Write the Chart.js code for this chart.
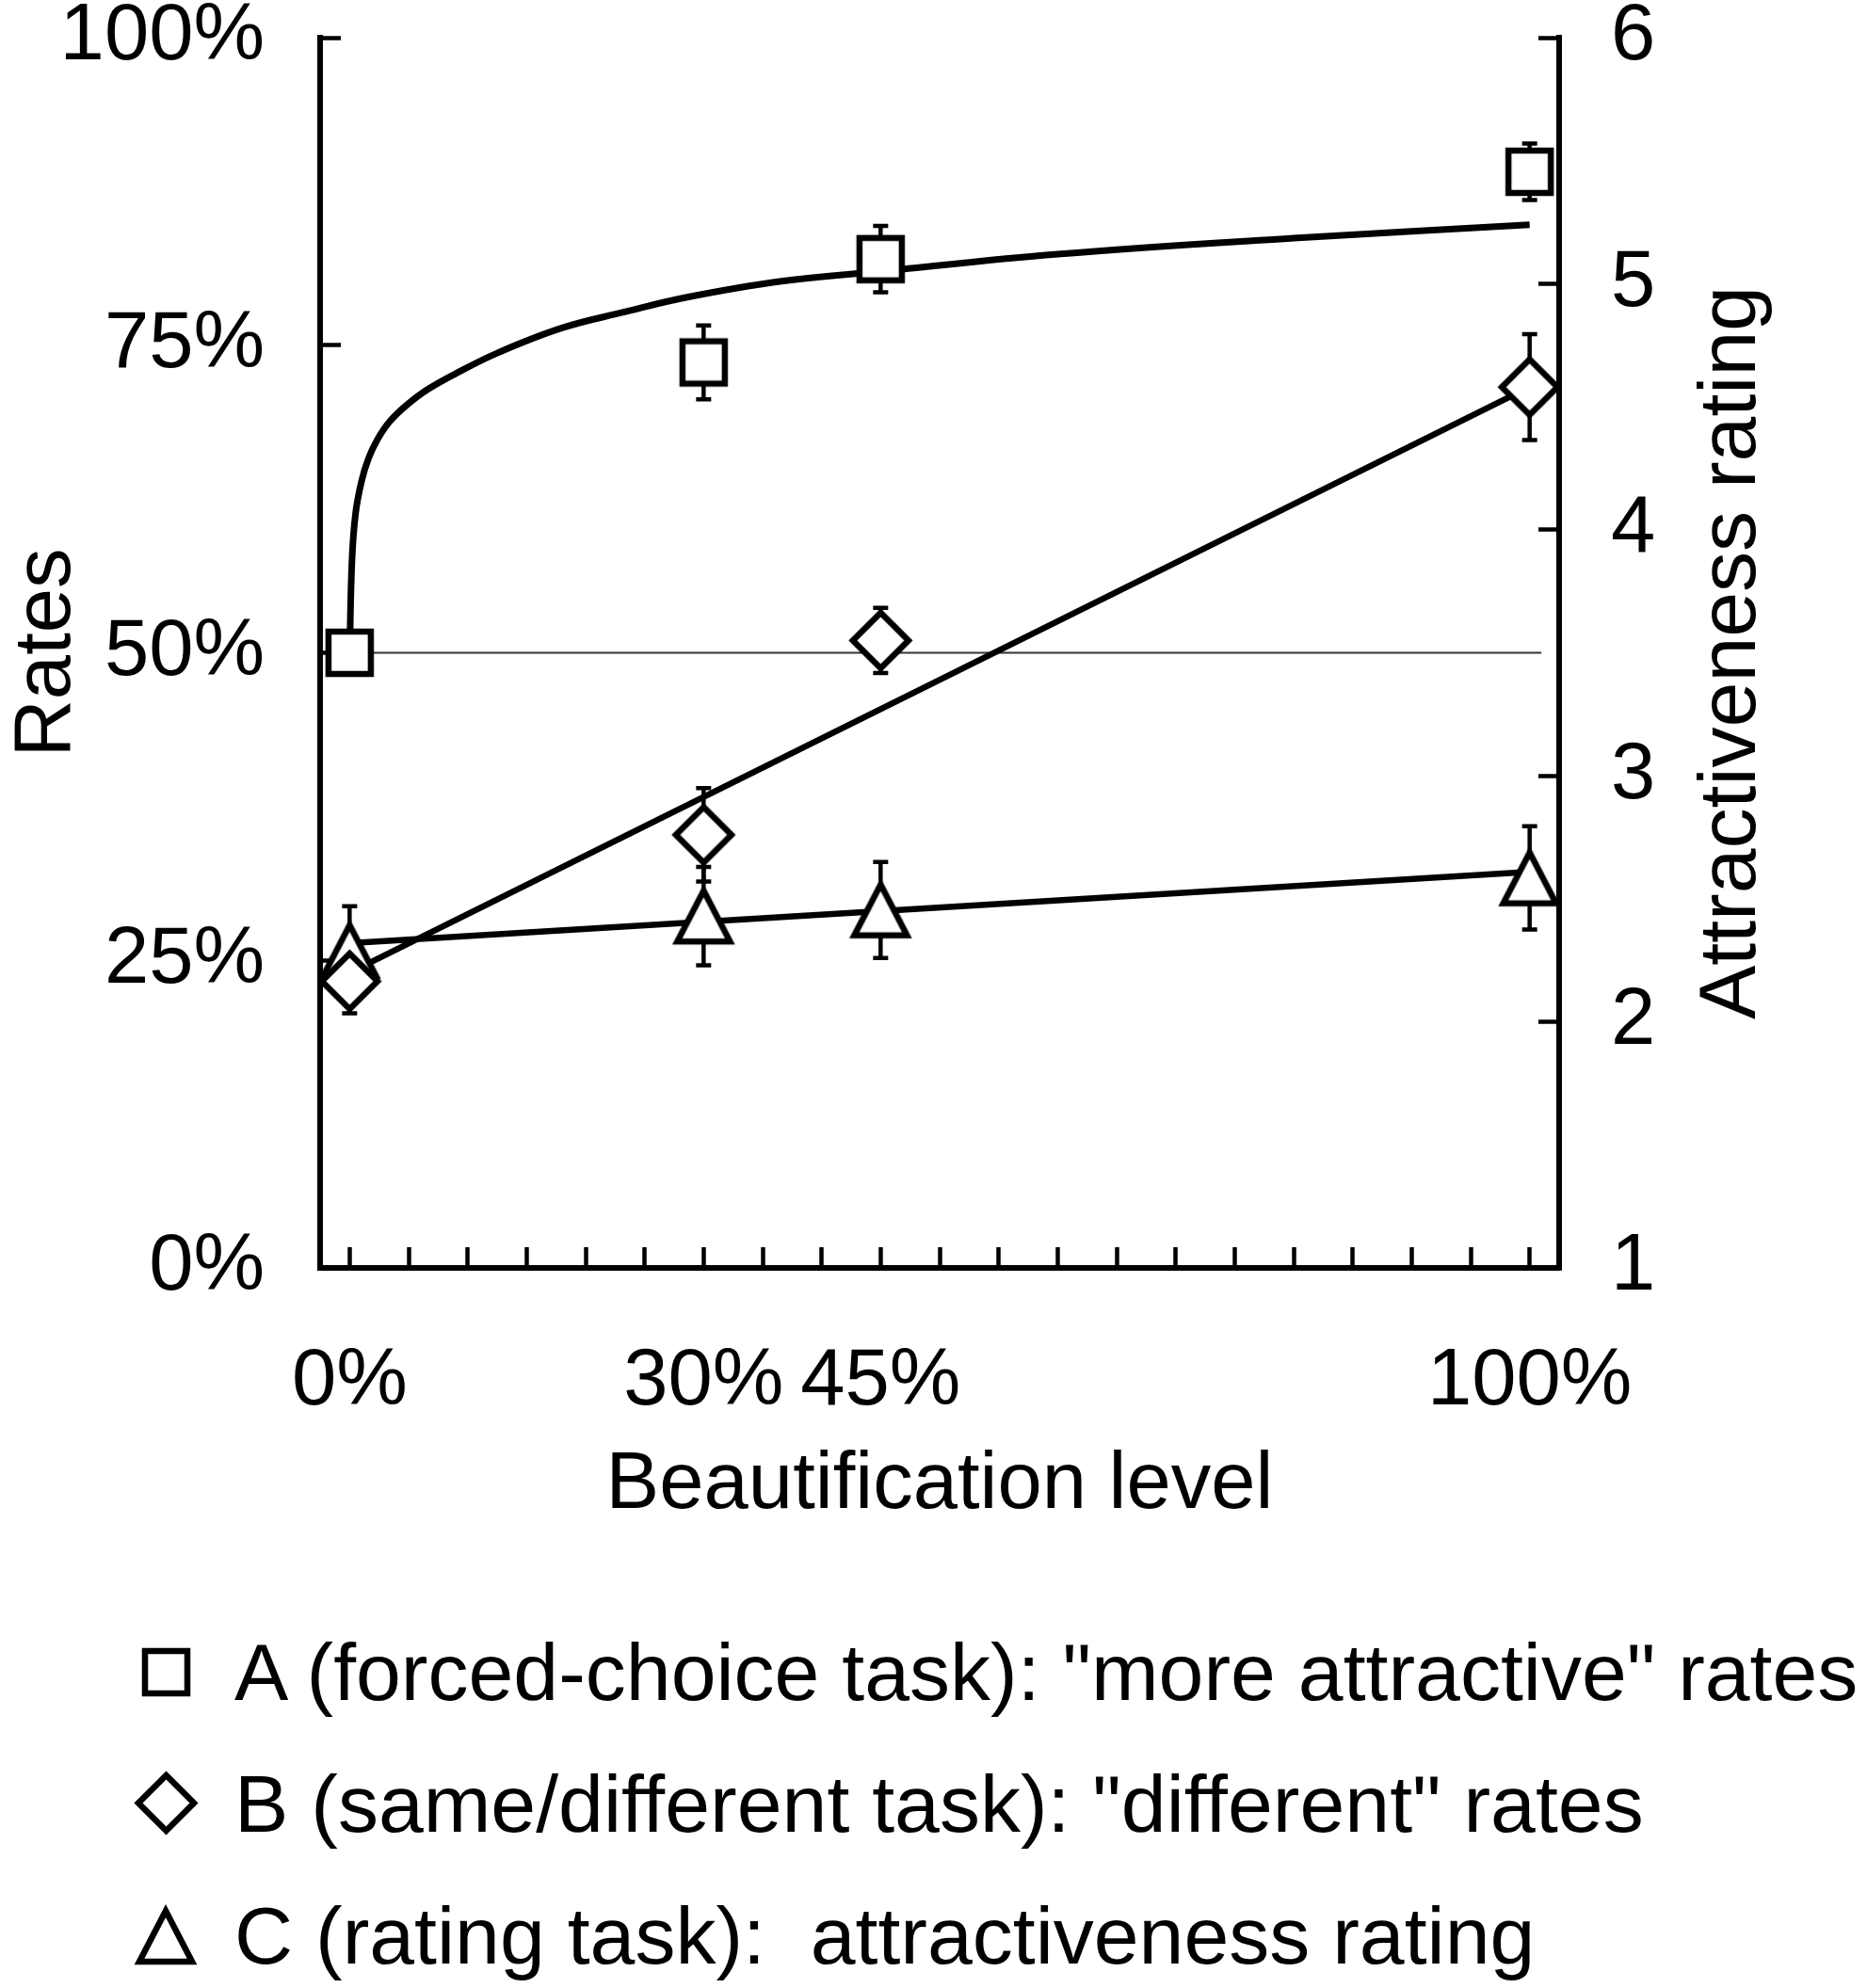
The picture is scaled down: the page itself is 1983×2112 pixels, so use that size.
<!DOCTYPE html>
<html>
<head>
<meta charset="utf-8">
<script src="https://cdn.jsdelivr.net/npm/chart.js@4.4.1/dist/chart.umd.min.js"></script>
<style>
  html, body { margin: 0; padding: 0; background: #fff; }
  #wrap { position: relative; width: 1983px; height: 2112px; font-family: "Liberation Sans", Arial, sans-serif; color: #000; }
  #plot { position: absolute; left: 0; top: 0; }
  .mark { position: absolute; }
  .lbl { position: absolute; left: 249px; font-size: 86px; line-height: 86px; white-space: pre; }
</style>
</head>
<body>
<div id="wrap">
  <canvas id="plot" width="1983" height="1680"></canvas>
  <div id="legend"></div>
</div>
<script>
// beautification levels (x) and measured points
const levels = [0, 30, 45, 100];
const rateA = [50.0, 73.6, 82.0, 89.1];     // forced-choice "more attractive" rates (%)
const errA = [0, 3.0, 2.7, 2.3];
const rateB = [23.3, 35.2, 51.0, 71.6];     // same/different "different" rates (%)
const errB = [2.6, 3.8, 2.65, 4.3];
const ratingC = [2.29, 2.43, 2.455, 2.585]; // attractiveness rating (1-6)
const errC = [0.18, 0.20, 0.195, 0.21];

// fitted lines
const fitAx = [0, 0.2, 0.5, 1.0, 1.6, 2.4, 3.4, 4.8, 6.6, 9.0, 12.6, 18.0, 23.3, 28.6, 36.6, 45, 60, 80, 100];
const fitAy = [50, 57.5, 61.3, 63.9, 65.8, 67.4, 68.8, 70.1, 71.4, 72.7, 74.4, 76.4, 77.7, 78.9, 80.2, 81.0, 82.4, 83.7, 84.8];
const fitBx = [0, 100];
const fitBy = [24.0, 71.6];
const fitCx = [0, 100];
const fitCy = [2.32, 2.61];
const chanceX = [0, 101];
const chanceY = [50, 50];

// axes
const xTicks = [0, 5, 10, 15, 20, 25, 30, 35, 40, 45, 50, 55, 60, 65, 70, 75, 80, 85, 90, 95, 100];
const xLabelled = [0, 30, 45, 100];
const rateTicks = [0, 25, 50, 75, 100];
const ratingTicks = [1, 2, 3, 4, 5, 6];

const legendLabels = [
  'A (forced-choice task): "more attractive" rates',
  'B (same/different task): "different" rates',
  'C (rating task):  attractiveness rating'
];
const rightTitle = 'Attractiveness rating';

const FONT = { family: '"Liberation Sans", Arial, sans-serif', size: 85 };

function makeMarker(shape, w, h, lw) {
  const c = document.createElement('canvas');
  c.width = Math.ceil(w + lw * 3 + 6);
  c.height = Math.ceil(h + lw * 3 + 6);
  const g = c.getContext('2d');
  const cx = c.width / 2, cy = c.height / 2;
  g.lineWidth = lw;
  g.lineJoin = 'miter';
  g.strokeStyle = '#000';
  g.fillStyle = '#fff';
  g.beginPath();
  if (shape === 'square') {
    g.rect(cx - w / 2, cy - h / 2, w, h);
  } else if (shape === 'diamond') {
    g.moveTo(cx, cy - h / 2); g.lineTo(cx + w / 2, cy);
    g.lineTo(cx, cy + h / 2); g.lineTo(cx - w / 2, cy);
    g.closePath();
  } else {
    g.moveTo(cx, cy - h / 2); g.lineTo(cx + w / 2, cy + h / 2);
    g.lineTo(cx - w / 2, cy + h / 2);
    g.closePath();
  }
  g.fill();
  g.stroke();
  return c;
}

const squareMk = makeMarker('square', 45, 45, 6.5);
const diamondMk = makeMarker('diamond', 59, 59, 6.5);
const triangleMk = makeMarker('triangle', 56, 54, 6.5);

const pts = (xs, ys) => xs.map((x, i) => ({ x: x, y: ys[i] }));

const errorBars = {
  id: 'errorBars',
  beforeDatasetsDraw(chart) {
    const { ctx, scales } = chart;
    const groups = [
      { vals: rateA, errs: errA, y: scales.y },
      { vals: rateB, errs: errB, y: scales.y },
      { vals: ratingC, errs: errC, y: scales.y2 }
    ];
    ctx.save();
    ctx.strokeStyle = '#000';
    ctx.lineWidth = 4.5;
    groups.forEach(g => g.vals.forEach((v, i) => {
      if (!g.errs[i]) return;
      const px = scales.x.getPixelForValue(levels[i]);
      const top = g.y.getPixelForValue(v + g.errs[i]);
      const bot = g.y.getPixelForValue(v - g.errs[i]);
      ctx.beginPath();
      ctx.moveTo(px, top); ctx.lineTo(px, bot);
      ctx.moveTo(px - 8, top); ctx.lineTo(px + 8, top);
      ctx.moveTo(px - 8, bot); ctx.lineTo(px + 8, bot);
      ctx.stroke();
    }));
    ctx.restore();
  }
};

// right axis title reads bottom-to-top like the left one
const rightTitlePlugin = {
  id: 'rightTitle',
  afterDraw(chart) {
    const { ctx, chartArea } = chart;
    ctx.save();
    ctx.translate(1840, (chartArea.top + chartArea.bottom) / 2);
    ctx.rotate(-Math.PI / 2);
    ctx.font = '86px ' + FONT.family;
    ctx.fillStyle = '#000';
    ctx.textAlign = 'center';
    ctx.textBaseline = 'middle';
    ctx.fillText(rightTitle, 0, 0);
    ctx.restore();
  }
};

const inwardGrid = { drawOnChartArea: false, drawTicks: true, tickLength: -22, tickWidth: 4.5, tickColor: '#000' };
const axisBorder = { display: true, color: '#000', width: 6 };

new Chart(document.getElementById('plot'), {
  type: 'scatter',
  data: {
    datasets: [
      { label: 'A', data: pts(levels, rateA), yAxisID: 'y', pointStyle: squareMk, pointRadius: 26, showLine: false, order: 0 },
      { label: 'B', data: pts(levels, rateB), yAxisID: 'y', pointStyle: diamondMk, pointRadius: 30, showLine: false, order: 0 },
      { label: 'C', data: pts(levels, ratingC), yAxisID: 'y2', pointStyle: triangleMk, pointRadius: 30, showLine: false, order: 0 },
      { label: 'fit A', data: pts(fitAx, fitAy), yAxisID: 'y', showLine: true, pointRadius: 0,
        borderColor: '#000', borderWidth: 7, tension: 0.4, order: 1 },
      { label: 'fit B', data: pts(fitBx, fitBy), yAxisID: 'y', showLine: true, pointRadius: 0,
        borderColor: '#000', borderWidth: 6.5, order: 1 },
      { label: 'fit C', data: pts(fitCx, fitCy), yAxisID: 'y2', showLine: true, pointRadius: 0,
        borderColor: '#000', borderWidth: 6.5, order: 1 },
      { label: 'chance', data: pts(chanceX, chanceY), yAxisID: 'y', showLine: true, pointRadius: 0,
        borderColor: '#333', borderWidth: 2, order: 2 }
    ]
  },
  options: {
    responsive: false,
    animation: false,
    layout: { padding: { top: 40, left: 0, right: 0, bottom: 0 } },
    plugins: { legend: { display: false }, tooltip: { enabled: false } },
    scales: {
      x: {
        type: 'linear', position: 'bottom', min: -2.5, max: 102.5,
        afterBuildTicks: s => { s.ticks = xTicks.map(v => ({ value: v })); },
        afterFit: s => { s.height = 1680 - 1347; s.paddingLeft = 0; s.paddingRight = 0; },
        ticks: { autoSkip: false, maxRotation: 0, padding: 93, font: FONT, color: '#000',
          callback: v => xLabelled.includes(v) ? v + '%' : '' },
        grid: inwardGrid,
        border: axisBorder,
        title: { display: true, text: 'Beautification level', font: FONT, color: '#000', padding: { top: 0, bottom: 50 } }
      },
      y: {
        type: 'linear', position: 'left', min: 0, max: 100,
        afterBuildTicks: s => { s.ticks = rateTicks.map(v => ({ value: v })); },
        afterFit: s => { s.width = 340; s.paddingTop = 0; s.paddingBottom = 0; },
        ticks: { padding: 81, font: FONT, color: '#000', callback: v => v + '%' },
        grid: inwardGrid,
        border: axisBorder,
        title: { display: true, text: 'Rates', font: FONT, color: '#000', padding: { top: 0, bottom: 0 } }
      },
      y2: {
        type: 'linear', position: 'right', min: 1, max: 6,
        afterBuildTicks: s => { s.ticks = ratingTicks.map(v => ({ value: v })); },
        afterFit: s => { s.width = 1983 - 1656; s.paddingTop = 0; s.paddingBottom = 0; },
        ticks: { padding: 77, font: FONT, color: '#000' },
        grid: inwardGrid,
        border: axisBorder
      }
    }
  },
  plugins: [errorBars, rightTitlePlugin]
});

// legend below the plot
const legend = document.getElementById('legend');
const legendMarks = [squareMk, diamondMk, triangleMk];
const legendCy = [1776, 1915, 2057];
const legendBase = [1806, 1946, 2086];
legendLabels.forEach((text, i) => {
  const src = legendMarks[i];
  const mk = document.createElement('canvas');
  mk.width = src.width; mk.height = src.height;
  mk.getContext('2d').drawImage(src, 0, 0);
  mk.className = 'mark';
  mk.style.left = (176 - src.width / 2) + 'px';
  mk.style.top = (legendCy[i] - src.height / 2) + 'px';
  legend.appendChild(mk);
  const t = document.createElement('div');
  t.className = 'lbl';
  t.style.top = (legendBase[i] - 73) + 'px';
  t.textContent = text;
  legend.appendChild(t);
});
</script>
</body>
</html>
